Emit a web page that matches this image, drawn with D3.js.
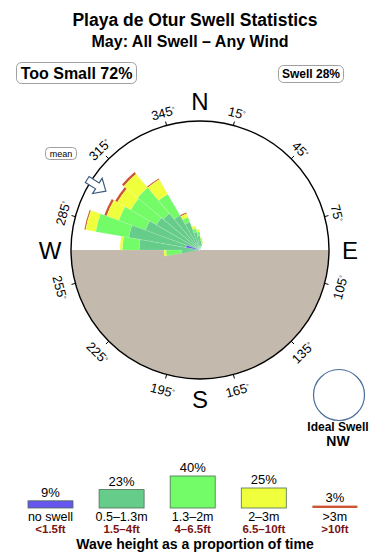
<!DOCTYPE html>
<html>
<head>
<meta charset="utf-8">
<script src="https://cdn.jsdelivr.net/npm/d3@7"></script>
<style>
  html, body { margin: 0; padding: 0; background: #fff; }
  svg { display: block; font-family: "Liberation Sans", Arial, Helvetica, sans-serif; }
</style>
</head>
<body>
<div id="chart"></div>
<script>
// direction bins (centre bearing, 10 deg wide)
var bearings = [265, 275, 285, 295, 305, 315, 325, 335, 345, 355, 5, 15];
// stacked amounts per wave class (rose units, 10 = circle edge)
var noSwell  = [0, 0, 1.1, 0, 0, 0, 0, 0, 0, 0, 0, 0];
var h05to13  = [1.4, 4.7, 4.5, 4.5, 3.9, 3.7, 3.1, 2.3, 1.4, 1.1, 0.7, 0.5];
var h13to2   = [1.2, 1.3, 2.6, 2.2, 2.3, 2.6, 1.9, 0.4, 0.3, 0.3, 0.2, 0.1];
var h2to3    = [0.2, 0.2, 0.8, 1.0, 1.2, 1.4, 1.3, 0.3, 0.2, 0.2, 0.1, 0.1];
var hOver3   = [0, 0, 0.1, 0.2, 0.2, 0.2, 0.1, 0.1, 0, 0, 0, 0];

var classes   = ["no swell", "0.5-1.3m", "1.3-2m", "2-3m", ">3m"];
var feetLabel = ["<1.5ft", "1.5-4ft", "4-6.5ft", "6.5-10ft", ">10ft"];
var classPct  = [9, 23, 40, 25, 3];
var colors    = ["#6655ee", "#66cc8a", "#74fb68", "#efff3c", "#cc5533"];

var degreeTicks = [15, 45, 75, 105, 135, 165, 195, 225, 255, 285, 315, 345];
var compass = [{ t: "N", b: 0 }, { t: "E", b: 90 }, { t: "S", b: 180 }, { t: "W", b: 270 }];
var meanBearing = 302;

var W = 390, H = 560;
var cx = 200, cy = 250, R = 129;
var rad = Math.PI / 180;

var svg = d3.select("#chart").append("svg").attr("width", W).attr("height", H);

// titles
svg.append("text").attr("x", 195).attr("y", 26).attr("text-anchor", "middle")
  .style("font-weight", "bold").style("font-size", "17.5px").text("Playa de Otur Swell Statistics");
svg.append("text").attr("x", 190).attr("y", 47).attr("text-anchor", "middle")
  .style("font-weight", "bold").style("font-size", "16px").text("May: All Swell \u2013 Any Wind");

// boxes
function labelBox(x, y, w, h, txt, size) {
  svg.append("rect").attr("x", x).attr("y", y).attr("width", w).attr("height", h)
    .attr("rx", 5).attr("fill", "#fff").attr("stroke", "#888").attr("stroke-width", 0.8);
  svg.append("text").attr("x", x + w / 2).attr("y", y + h / 2).attr("dy", "0.36em")
    .attr("text-anchor", "middle").style("font-weight", "bold").style("font-size", size + "px").text(txt);
}
labelBox(16.5, 62.5, 120, 21, "Too Small 72%", 16);
labelBox(278.5, 65.5, 65, 17, "Swell 28%", 12);

// rose
var rScale = d3.scaleLinear().domain([0, 10]).range([0, R]);
var g = svg.append("g").attr("transform", "translate(" + cx + "," + cy + ")");

// land (lower half)
g.append("path")
  .attr("d", d3.arc()({ innerRadius: 0, outerRadius: R, startAngle: Math.PI / 2, endAngle: Math.PI * 1.5 }))
  .attr("fill", "#c4b9ad");

var table = bearings.map(function (b, i) {
  return { bearing: b, c0: noSwell[i], c1: h05to13[i], c2: h13to2[i], c3: h2to3[i], c4: hOver3[i] };
});
var stacked = d3.stack().keys(["c0", "c1", "c2", "c3", "c4"])(table);

var arc = d3.arc()
  .innerRadius(function (d) { return rScale(d[0]); })
  .outerRadius(function (d) { return rScale(d[1]); })
  .startAngle(function (d) { return (d.data.bearing - 5) * rad; })
  .endAngle(function (d) { return (d.data.bearing + 5) * rad; });

// draw outer classes first so blue sits on top
stacked.slice().reverse().forEach(function (layer) {
  g.append("g").attr("fill", colors[layer.index])
    .selectAll("path").data(layer.filter(function (d) { return d[1] > d[0]; }))
    .join("path").attr("d", arc)
    .attr("stroke", "rgba(255,255,255,0.3)").attr("stroke-width", 0.4);
});

// outline circle
g.append("circle").attr("r", R).attr("fill", "none").attr("stroke", "#000").attr("stroke-width", 1.4);

// degree ticks and labels
degreeTicks.forEach(function (b) {
  var s = Math.sin(b * rad), c = -Math.cos(b * rad);
  g.append("line").attr("x1", R * s).attr("y1", R * c).attr("x2", (R + 4) * s).attr("y2", (R + 4) * c)
    .attr("stroke", "#000").attr("stroke-width", 1);
  var rot = (b > 90 && b < 270) ? b - 180 : (b > 180 ? b - 360 : b);
  var lr = (b > 90 && b < 270) ? 145 : 142;
  var t = g.append("text")
    .attr("transform", "translate(" + (lr * s) + "," + (lr * c) + ") rotate(" + rot + ")")
    .attr("text-anchor", "middle").attr("dy", "0.36em").style("font-size", "13px");
  t.append("tspan").text(b);
  t.append("tspan").attr("dy", "-0.45em").style("font-size", "7px").text("\u00b0");
});

// compass letters
compass.forEach(function (d) {
  var s = Math.sin(d.b * rad), c = -Math.cos(d.b * rad);
  var lr = d.b % 180 === 0 ? 149 : 150;
  g.append("text").attr("x", lr * s).attr("y", lr * c).attr("dy", "0.36em")
    .attr("text-anchor", "middle").style("font-size", "24px").text(d.t);
});

// mean direction arrow (points inwards)
var arrowPts = [[0, -111], [-9, -121], [-3.5, -121], [-3.5, -133], [3.5, -133], [3.5, -121], [9, -121]];
g.append("polygon")
  .attr("points", arrowPts.map(function (p) { return p.join(","); }).join(" "))
  .attr("transform", "rotate(" + meanBearing + ")")
  .attr("fill", "#fff").attr("stroke", "#3a5a80").attr("stroke-width", 1.2);

svg.append("rect").attr("x", 45.5).attr("y", 147.5).attr("width", 31).attr("height", 12)
  .attr("rx", 4).attr("fill", "#fff").attr("stroke", "#888").attr("stroke-width", 0.8);
svg.append("text").attr("x", 61).attr("y", 153.5).attr("dy", "0.36em").attr("text-anchor", "middle")
  .style("font-size", "9px").text("mean");

// ideal swell
svg.append("circle").attr("cx", 339).attr("cy", 395).attr("r", 25.5)
  .attr("fill", "#fff").attr("stroke", "#4a6d9c").attr("stroke-width", 1.2);
svg.append("text").attr("x", 338).attr("y", 431).attr("text-anchor", "middle")
  .style("font-weight", "bold").style("font-size", "12px").text("Ideal Swell");
svg.append("text").attr("x", 338).attr("y", 446).attr("text-anchor", "middle")
  .style("font-weight", "bold").style("font-size", "14px").text("NW");

// legend bars
var base = 508;
var xLeg = d3.scaleBand().domain(classes).range([28, 357.4]).paddingInner(0.367).paddingOuter(0);
var hLeg = d3.scaleLinear().domain([0, 40]).range([0, 32]);
var leg = svg.append("g");
classes.forEach(function (c, i) {
  var x = xLeg(c), bw = xLeg.bandwidth(), h = Math.max(hLeg(classPct[i]), 2);
  leg.append("rect").attr("x", x).attr("y", base - h).attr("width", bw).attr("height", h)
    .attr("fill", colors[i]).attr("stroke", i === 4 ? "none" : "#4d6e55").attr("stroke-width", 0.8);
  leg.append("text").attr("x", x + bw / 2).attr("y", base - h - 4).attr("text-anchor", "middle")
    .style("font-size", "13px").text(classPct[i] + "%");
  leg.append("text").attr("x", x + bw / 2).attr("y", 520.5).attr("text-anchor", "middle")
    .style("font-size", "12.5px").text(c.replace("-", "\u2013"));
  leg.append("text").attr("x", x + bw / 2).attr("y", 533).attr("text-anchor", "middle")
    .style("font-size", "11.5px").style("font-weight", "bold").attr("fill", "#7a1414")
    .text(feetLabel[i].replace("-", "\u2013"));
});
svg.append("text").attr("x", 195).attr("y", 548.5).attr("text-anchor", "middle")
  .style("font-weight", "bold").style("font-size", "14px").text("Wave height as a proportion of time");
</script>
</body>
</html>
